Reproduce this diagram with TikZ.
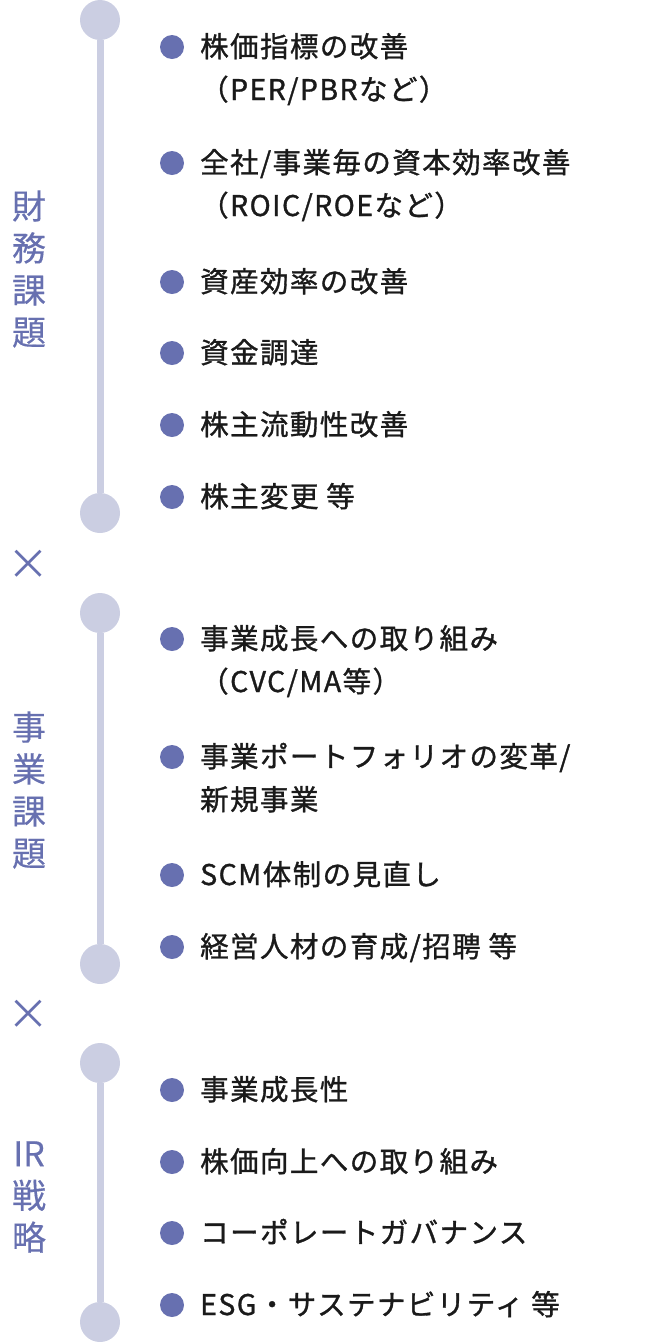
\documentclass[tikz,border=0pt]{standalone}
\usepackage{fontspec}
\setmainfont{Noto Sans CJK JP}
\newfontfamily\itemfont[LetterSpace=5,FakeBold=1.1]{Noto Sans CJK JP}
\newfontfamily\headfont[FakeBold=0.4]{Noto Sans CJK JP}
\usepackage{xcolor}
\definecolor{rail}{HTML}{CBCEE2}
\definecolor{accent}{HTML}{6770B0}
\definecolor{ink}{HTML}{1A1A1A}

\begin{document}
\begin{tikzpicture}[x=1pt, y=-1pt,
    knob/.style={circle, fill=rail, minimum size=40pt, inner sep=0pt},
    dot/.style={circle, fill=accent, minimum size=24pt, inner sep=0pt},
    railline/.style={draw=rail, line width=7pt},
    item/.style={anchor=base west, inner sep=0pt, align=left, text=ink,
        font=\itemfont\fontsize{28.5}{43}\selectfont},
    heading/.style={inner sep=0pt, align=center, text=accent,
        font=\headfont\fontsize{34}{42}\selectfont},
    times/.style={inner sep=0pt, text=accent, font=\fontsize{42}{42}\selectfont}]
    \useasboundingbox (0,0) rectangle (650,1342);

    % Section 1: financial issues
    \node[knob] (top1) at (100,20) {};
    \node[knob] (bot1) at (100,513) {};
    \draw[railline] (top1) -- (bot1);
    \node[heading] (lab1) at (29,269) {財\\務\\課\\題};
    % \n = number of extra lines (the node's base is its last line)
    \foreach \y/\n/\txt [count=\i] in {47/1/{株価指標の改善\\（PER/PBRなど）},
        163/1/{全社/事業毎の資本効率改善\\（ROIC/ROEなど）},
        282/0/{資産効率の改善}, 353/0/{資金調達}, 425/0/{株主流動性改善},
        497/0/{株主変更 等}}
    {
        \node[dot] (dotA\i) at (172,\y) {};
        \node[item] (itemA\i) at (200,\y+10+43*\n) {\txt};
    }

    % Multiplication signs between the sections
    \node[times] (x1) at (28,565) {×};
    \node[times] (x2) at (28,1015) {×};

    % Section 2: business issues
    \node[knob] (top2) at (100,613) {};
    \node[knob] (bot2) at (100,964) {};
    \draw[railline] (top2) -- (bot2);
    \node[heading] (lab2) at (29,790) {事\\業\\課\\題};
    \foreach \y/\n/\txt [count=\i] in {639/1/{事業成長への取り組み\\（CVC/MA等）},
        757/1/{事業ポートフォリオの変革/\\新規事業},
        875/0/{SCM体制の見直し}, 947/0/{経営人材の育成/招聘 等}}
    {
        \node[dot] (dotB\i) at (172,\y) {};
        \node[item] (itemB\i) at (200,\y+10+43*\n) {\txt};
    }

    % Section 3: IR strategy
    \node[knob] (top3) at (100,1063) {};
    \node[knob] (bot3) at (100,1322) {};
    \draw[railline] (top3) -- (bot3);
    \node[heading] (lab3) at (29,1197) {IR\\戦\\略};
    \foreach \y/\n/\txt [count=\i] in {1090/0/{事業成長性}, 1162/0/{株価向上への取り組み},
        1233/0/{コーポレートガバナンス}, 1305/0/{ESG・サステナビリティ 等}}
    {
        \node[dot] (dotC\i) at (172,\y) {};
        \node[item] (itemC\i) at (200,\y+10+43*\n) {\txt};
    }
\end{tikzpicture}
\end{document}
